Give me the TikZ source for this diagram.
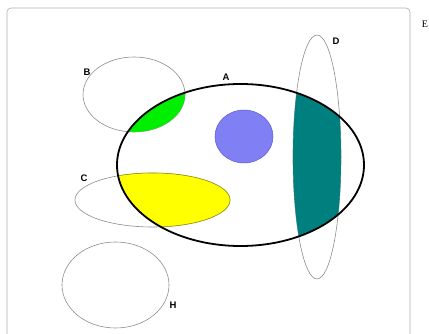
\documentclass[tikz,border=0pt]{standalone}
\usepackage{fontspec}
\setmainfont{Liberation Serif}
\newfontfamily\labelfont{Liberation Sans}
\usepackage{xcolor}
\usetikzlibrary{positioning}

\definecolor{setgray}{HTML}{8C8C8C}
\definecolor{lensgreen}{HTML}{00EE00}
\definecolor{lensteal}{HTML}{007F7F}
\definecolor{lensyellow}{HTML}{FFFF00}
\definecolor{dotblue}{HTML}{8080F4}
\definecolor{dotedge}{HTML}{5A5AD0}

% outlines of the sets (y grows downwards)
\def\setA{(240.5,165) ellipse [x radius=123.5pt, y radius=81pt]}
\def\setB{(134,94.5) ellipse [x radius=51pt, y radius=37.5pt]}
\def\setC{(152.5,200) ellipse [x radius=77.5pt, y radius=27pt]}
\def\setD{(317,157) ellipse [x radius=24pt, y radius=122pt]}
\def\setH{(115.5,285) ellipse [x radius=53.5pt, y radius=43pt]}

\begin{document}
\begin{tikzpicture}[
    x=1pt, y=-1pt,
    % Define styles for the sets
    thin_set/.style={draw=setgray, line width=0.6pt},
    main_set/.style={draw=black, line width=1.8pt},
    set_label/.style={font=\labelfont\bfseries\fontsize{9.5}{9.5}\selectfont, inner sep=0pt},
    frame_box/.style={draw=setgray!70, line width=0.6pt, rounded corners=4pt}
]
    \useasboundingbox (0,0) rectangle (429,334);

    % =========================================================================
    % UNIVERSE E
    % =========================================================================
    \draw [frame_box] (7,8) rectangle (410,345);
    \node (label_e) [inner sep=0pt, font=\fontsize{10}{10}\selectfont] at (425,24) {E};

    % =========================================================================
    % OUTLINES
    % =========================================================================
    \draw [thin_set] \setB;
    \draw [thin_set] \setC;
    \draw [thin_set] \setD;
    \draw [thin_set] \setH;

    % =========================================================================
    % INTERSECTIONS WITH A
    % =========================================================================
    \begin{scope}
        \clip \setA;
        \fill [lensgreen] \setB;
        \filldraw [fill=lensyellow, draw=lensyellow!55!black, line width=0.5pt] \setC;
        \fill [lensteal] \setD;
    \end{scope}

    % Set inside A
    \draw [draw=dotedge, line width=0.5pt, fill=dotblue] (244,136.5) ellipse [x radius=29pt, y radius=26.5pt];

    \draw [main_set] \setA;

    % Labels of the sets
    \node (label_a) [set_label] at (226,77) {A};
    \node (label_b) [set_label] at (87,72) {B};
    \node (label_c) [set_label] at (84,178) {C};
    \node (label_d) [set_label] at (336,41) {D};
    \node (label_h) [set_label] at (173,305) {H};

\end{tikzpicture}
\end{document}
